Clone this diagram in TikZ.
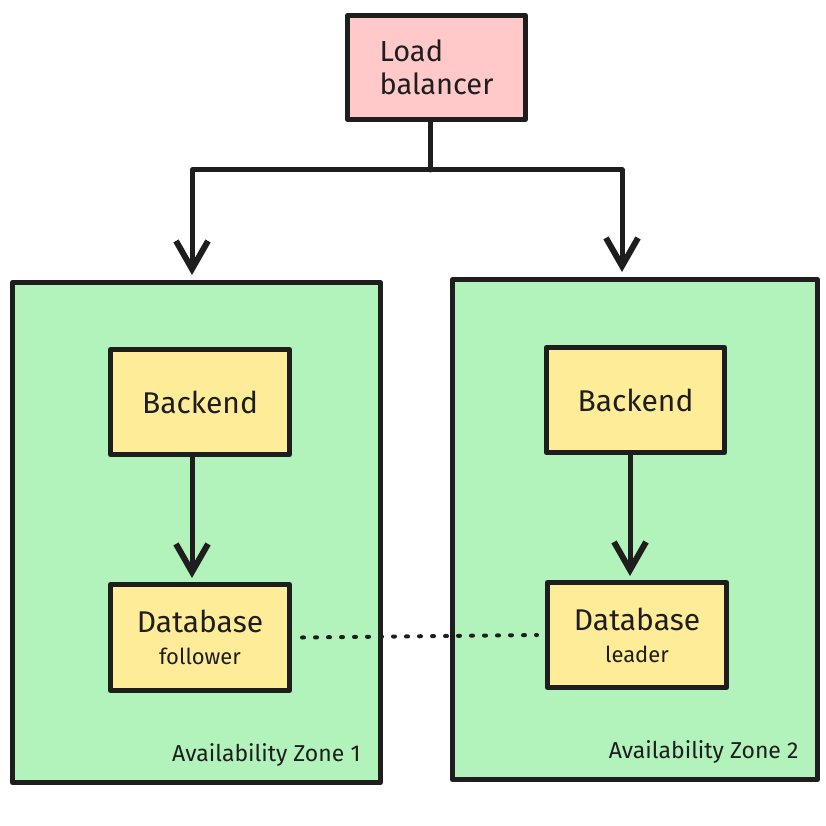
\documentclass[tikz,border=0pt]{standalone}
\usepackage{fontspec}
\setmainfont{Fira Sans}
\usetikzlibrary{arrows.meta,positioning,calc}
\definecolor{ink}{HTML}{1E1E1E}
\definecolor{lbfill}{HTML}{FFC9C9}
\definecolor{zonefill}{HTML}{B2F2BB}
\definecolor{boxfill}{HTML}{FFEC99}
\tikzset{
  x=1pt,y=-1pt,
  boxstyle/.style={draw=ink,line width=5pt,line join=round,inner sep=0pt,anchor=north west,align=center,text=ink},
  zonestyle/.style={boxstyle,fill=zonefill},
  compstyle/.style={boxstyle,fill=boxfill,font=\fontsize{30}{33}\selectfont},
  conn/.style={draw=ink,line width=5pt,line cap=round,line join=round},
  arr/.style={conn,-{Straight Barb[length=28pt,width=32pt,line width=6pt]}},
  zlabel/.style={text=ink,font=\fontsize{23}{26}\selectfont,anchor=south east}
}
\begin{document}
\begin{tikzpicture}
\useasboundingbox (0,0) rectangle (825,826);
\fill[white] (0,0) rectangle (825,826);
% zones
\node[zonestyle,minimum width=368pt,minimum height=500pt] (zl) at (10,280) {};
\node[zonestyle,minimum width=365pt,minimum height=500pt] (zr) at (450,277) {};
% load balancer
\node[boxstyle,fill=lbfill,minimum width=178pt,minimum height=104pt,align=left,font=\fontsize{29}{33}\selectfont] (lb) at (345,13) {Load\\balancer};
% backends
\node[compstyle,minimum width=179pt,minimum height=105pt] (bl) at (108,347) {Backend};
\node[compstyle,minimum width=178pt,minimum height=105pt] (br) at (544,345) {Backend};
% databases
\node[compstyle,minimum width=179pt,minimum height=106pt] (dl) at (108,582) {Database\\[-1pt]{\fontsize{22}{24}\selectfont follower}};
\node[compstyle,minimum width=179pt,minimum height=105pt] (dr) at (545,580) {Database\\[-1pt]{\fontsize{22}{24}\selectfont leader}};
% zone labels
\node[zlabel] (zll) at (364,770) {Availability Zone 1};
\node[zlabel] (zrl) at (802,767) {Availability Zone 2};
% connectors
\coordinate (j) at (430,170);
\coordinate (tl) at (192,275);
\coordinate (tr) at (622,272);
\draw[conn] (lb.south -| j) -- (j);
\draw[arr] (j) -| (tl);
\draw[arr] (j) -| (tr);
\draw[arr] (bl.south -| tl) -- ($(dl.north -| tl)+(0,-4)$);
\draw[arr] (br.south -| 630,0) -- ($(dr.north -| 630,0)+(0,-4)$);
\draw[draw=ink,line width=4pt,line cap=round,dash pattern=on 2pt off 11pt] ($(dl.east)+(10,0)$) -- ($(dr.west)+(-8,0)$);
\end{tikzpicture}
\end{document}
